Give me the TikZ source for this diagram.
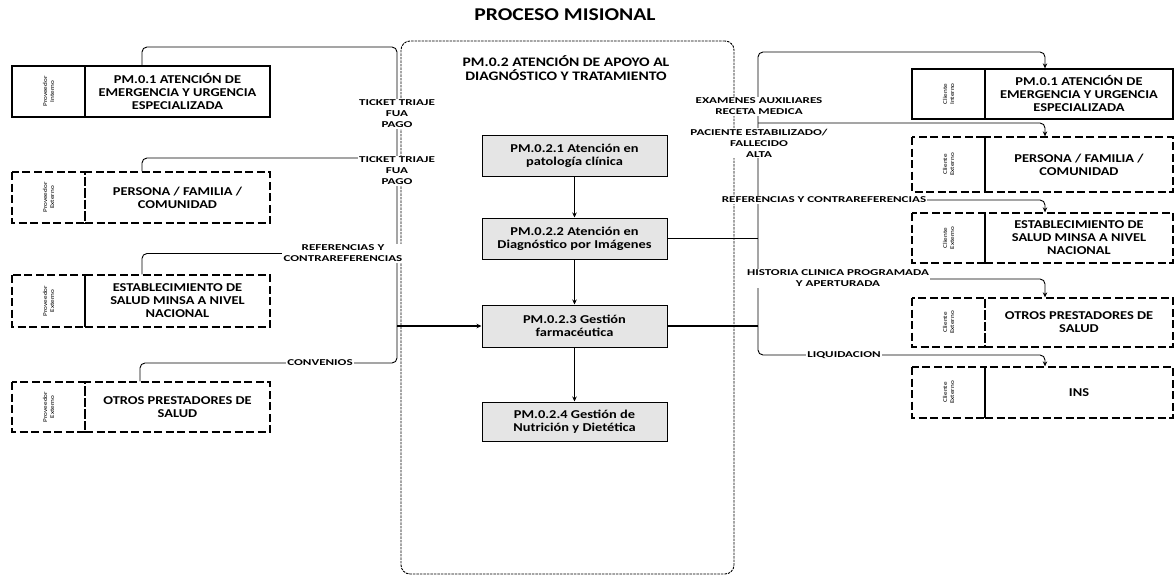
\documentclass[tikz,border=0pt]{standalone}
\usepackage{fontspec}
\setmainfont{Carlito}[FakeStretch=1.2]
\newfontfamily\lblfont[FakeStretch=1.45]{Carlito}
\usetikzlibrary{arrows.meta,backgrounds}
\begin{document}
\begin{tikzpicture}[x=1pt,y=-1pt,
  every node/.style={inner sep=0pt, align=center},
  heading/.style={font=\fontsize{18}{20}\selectfont\bfseries},
  frame/.style={draw, line width=0.9pt, dash pattern=on 2.5pt off 1pt, rounded corners=9pt,
                minimum width=333pt, minimum height=533pt},
  frametitle/.style={font=\fontsize{13}{13.5}\selectfont\bfseries},
  subproc/.style={draw, line width=1pt, fill=black!10, minimum width=185pt,
                  font=\fontsize{12}{13}\selectfont\bfseries},
  solidedge/.style={draw, line width=1.3pt},
  dashedge/.style={draw, line width=1.3pt, dash pattern=on 8pt off 3.5pt},
  partyL/.style={minimum width=185pt, font=\fontsize{12}{13}\selectfont\bfseries},
  partyR/.style={minimum width=188pt, font=\fontsize{12}{13}\selectfont\bfseries},
  tag/.style={rotate=90, minimum height=73pt, font=\fontsize{6}{7}\selectfont},
  flowlabel/.style={fill=white, inner sep=1.2pt, font=\lblfont\bfseries\fontsize{9}{11}\selectfont},
  link/.style={line width=0.9pt, rounded corners=5pt},
  tip/.style={-{Stealth[length=5pt,width=4.5pt]}},
]
\useasboundingbox (0,0) rectangle (1176,586);

% ---- title and central process frame
\node[heading] (title) at (565,15) {PROCESO MISIONAL};
\node[frame] (apoyo) at (567.5,307.5) {};
\node[frametitle] (apoyotitle) at (566,68) {PM.0.2 ATENCIÓN DE APOYO AL\\DIAGNÓSTICO Y TRATAMIENTO};

% ---- sub-processes
\node[subproc, minimum height=41pt] (p1) at (574.5,155.5) {PM.0.2.1 Atención en\\patología clínica};
\node[subproc, minimum height=41pt] (p2) at (574.5,238.5) {PM.0.2.2 Atención en\\Diagnóstico por Imágenes};
\node[subproc, minimum height=42pt] (p3) at (574.5,326) {PM.0.2.3 Gestión\\farmacéutica};
\node[subproc, minimum height=39pt] (p4) at (574.5,421.5) {PM.0.2.4 Gestión de\\Nutrición y Dietética};

\draw[tip, line width=1pt] (p1) -- (p2);
\draw[tip, line width=1pt] (p2) -- (p3);
\draw[tip, line width=1pt] (p3) -- (p4);

% ---- suppliers (left)
\node[partyL, solidedge, minimum height=51pt] (lm1) at (177.5,91.5) {PM.0.1 ATENCIÓN DE\\EMERGENCIA Y URGENCIA\\ESPECIALIZADA};
\node[tag, solidedge, minimum width=51pt] (lt1) at (48.5,91.5) {Proveedor\\Interno};
\node[partyL, dashedge, minimum height=51pt] (lm2) at (177.5,197.5) {PERSONA / FAMILIA /\\COMUNIDAD};
\node[tag, dashedge, minimum width=51pt] (lt2) at (48.5,197.5) {Proveedor\\Externo};
\node[partyL, dashedge, minimum height=52pt] (lm3) at (177.5,301) {ESTABLECIMIENTO DE\\SALUD MINSA A NIVEL\\NACIONAL};
\node[tag, dashedge, minimum width=52pt] (lt3) at (48.5,301) {Proveedor\\Externo};
\node[partyL, dashedge, minimum height=50pt] (lm4) at (177.5,407) {OTROS PRESTADORES DE\\SALUD};
\node[tag, dashedge, minimum width=50pt] (lt4) at (48.5,407) {Proveedor\\Externo};

% ---- clients (right)
\node[partyR, solidedge, minimum height=50pt] (rm1) at (1079,94) {PM.0.1 ATENCIÓN DE\\EMERGENCIA Y URGENCIA\\ESPECIALIZADA};
\node[tag, solidedge, minimum width=50pt] (rt1) at (948.5,94) {Cliente\\Interno};
\node[partyR, dashedge, minimum height=55pt] (rm2) at (1079,164.5) {PERSONA / FAMILIA /\\COMUNIDAD};
\node[tag, dashedge, minimum width=55pt] (rt2) at (948.5,164.5) {Cliente\\Externo};
\node[partyR, dashedge, minimum height=50pt] (rm3) at (1079,238) {ESTABLECIMIENTO DE\\SALUD MINSA A NIVEL\\NACIONAL};
\node[tag, dashedge, minimum width=50pt] (rt3) at (948.5,238) {Cliente\\Externo};
\node[partyR, dashedge, minimum height=49pt] (rm4) at (1079,322.5) {OTROS PRESTADORES DE\\SALUD};
\node[tag, dashedge, minimum width=49pt] (rt4) at (948.5,322.5) {Cliente\\Externo};
\node[partyR, dashedge, minimum height=51pt] (rm5) at (1079,392.5) {INS};
\node[tag, dashedge, minimum width=51pt] (rt5) at (948.5,392.5) {Cliente\\Externo};

% ---- flow labels
\node[flowlabel] (tk1) at (397,114) {TICKET TRIAJE\\FUA\\PAGO};
\node[flowlabel] (tk2) at (397,171) {TICKET TRIAJE\\FUA\\PAGO};
\node[flowlabel] (rf1) at (343,253.5) {REFERENCIAS Y\\CONTRAREFERENCIAS};
\node[flowlabel] (cv) at (320,363) {CONVENIOS};
\node[flowlabel] (ex) at (759,106.5) {EXAMENES AUXILIARES\\RECETA MEDICA};
\node[flowlabel] (pa) at (759,143) {PACIENTE ESTABILIZADO/\\FALLECIDO\\ALTA};
\node[flowlabel] (rf2) at (824,200) {REFERENCIAS Y CONTRAREFERENCIAS};
\node[flowlabel] (hc) at (838,278.5) {HISTORIA CLINICA PROGRAMADA\\Y APERTURADA};
\node[flowlabel] (lq) at (844,355) {LIQUIDACION};

\coordinate (busL) at (397,326);
\coordinate (busR) at (758,326);

\begin{scope}[on background layer]
  \fill[white] (0,0) rectangle (1176,586);
  % inputs gathered on the left bus
  \draw[link] ([xshift=-35.5pt]lm1.north) |- (397,47) -- (busL);
  \draw[link] ([xshift=-35.5pt]lm2.north) |- (397,158);
  \draw[link] ([xshift=-35.5pt]lm3.north) |- (rf1.west);
  \draw[link] ([xshift=-37.5pt]lm4.north) |- (cv.west);
  \draw[link] (cv.east) -| (busL);
  \draw[tip, line width=1.5pt] (busL) -- (p3.west);
  % outputs leaving on the right bus
  \draw[line width=1.7pt] (p3.east) -- (busR);
  \draw[link] (p2.east) -- (p2.east -| busR);
  \draw[link, tip] (busR) -- (758,52) -| ([xshift=-34pt]rm1.north);
  \draw[link, tip] (758,123) -| ([xshift=-34pt]rm2.north);
  \draw[link, tip] (758,200) -| ([xshift=-34pt]rm3.north);
  \draw[link, tip] (758,279) -| ([xshift=-34pt]rm4.north);
  \draw[link] (busR) |- (lq.west);
  \draw[link, tip] (lq.east) -| ([xshift=-34pt]rm5.north);
\end{scope}
\end{tikzpicture}
\end{document}
